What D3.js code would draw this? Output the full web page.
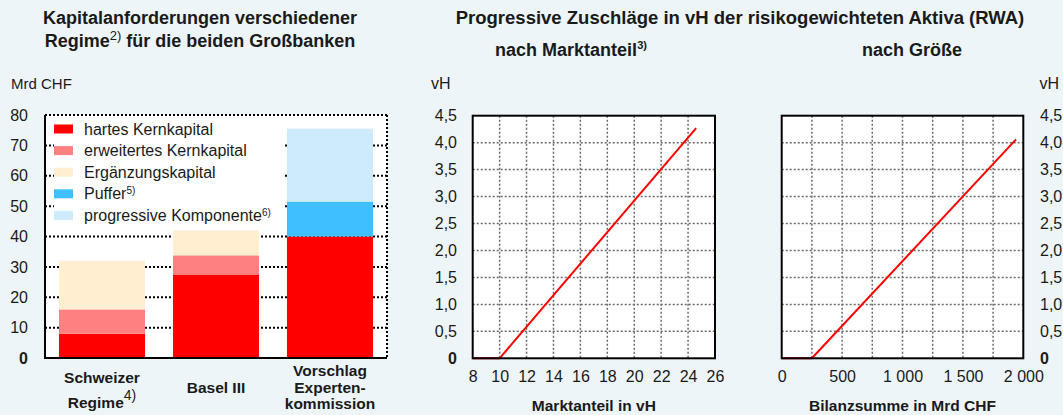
<!DOCTYPE html>
<html>
<head>
<meta charset="utf-8">
<script src="https://cdn.jsdelivr.net/npm/d3@7"></script>
<style>
  body { margin: 0; background: #edf5f9; }
  svg { display: block; font-family: "Liberation Sans", Arial, sans-serif; }
  text { fill: #1a1a1a; }
</style>
</head>
<body>
<script>
var WIDTH = 1063,
    HEIGHT = 415;

// left chart: capital requirements, Mrd CHF
var categories = ["Schweizer Regime", "Basel III", "Vorschlag Expertenkommission"];
var categoryLines = [["Schweizer", "Regime"], ["Basel III"], ["Vorschlag", "Experten-", "kommission"]];
var seriesNames = ["hartes Kernkapital", "erweitertes Kernkapital", "Ergänzungskapital", "Puffer", "progressive Komponente"];
var seriesNotes = ["", "", "", "5)", "6)"];
var seriesColors = ["#ff0000", "#ff8080", "#ffeecf", "#3fbfff", "#cdebfb"];
var hartes = [8, 27.5, 40];
var erweitertes = [8, 6.3, 0];
var ergaenzung = [16, 8.2, 0];
var puffer = [0, 0, 11.5];
var progressiv = [0, 0, 24];
var leftTicks = [0, 10, 20, 30, 40, 50, 60, 70, 80];

// right charts: progressive surcharge in vH of RWA
var vhTicks = [0, 0.5, 1, 1.5, 2, 2.5, 3, 3.5, 4, 4.5];
var marktTicks = [8, 10, 12, 14, 16, 18, 20, 22, 24, 26];
var marktanteil = [[8, 0], [10, 0], [24.6, 4.27]];
var groesseTicks = [0, 500, 1000, 1500, 2000];
var groesseGrid = [250, 500, 750, 1000, 1250, 1500, 1750];
var groesse = [[0, 0], [250, 0], [1940, 4.06]];

var de = d3.formatLocale({decimal: ",", thousands: " ", grouping: [3], currency: ["", " CHF"]});
var fmtVh = function(d){ return d === 0 ? "0" : de.format(".1f")(d); };
var fmtNum = de.format(",");
var FONT = "Liberation Sans, Arial, sans-serif";

var svg = d3.select("body").append("svg")
    .attr("width", WIDTH)
    .attr("height", HEIGHT);

svg.append("rect").attr("width", WIDTH).attr("height", HEIGHT).attr("fill", "#edf5f9");

// ---------- left chart ----------
var rows = categories.map(function(c, i){
  return {cat: c, s0: hartes[i], s1: erweitertes[i], s2: ergaenzung[i], s3: puffer[i], s4: progressiv[i]};
});
var stack = d3.stack().keys(["s0", "s1", "s2", "s3", "s4"]);
var stacked = stack(rows);

var x = d3.scaleBand().domain(categories).range([45, 387]).paddingInner(0.245).paddingOuter(0.1225);
var y = d3.scaleLinear().domain([0, 80]).range([358, 115]);

svg.append("text").attr("x", 200).attr("y", 24).attr("text-anchor", "middle")
    .style("font-weight", "bold").style("font-size", "18px").text("Kapitalanforderungen verschiedener");
var t2 = svg.append("text").attr("x", 200).attr("y", 47).attr("text-anchor", "middle")
    .style("font-weight", "bold").style("font-size", "18px");
t2.append("tspan").text("Regime");
t2.append("tspan").attr("dy", -7).style("font-weight", "normal").style("font-size", "13px").text("2)");
t2.append("tspan").attr("dy", 7).text(" für die beiden Großbanken");

svg.append("text").attr("x", 11).attr("y", 89).style("font-size", "15px").text("Mrd CHF");

svg.append("rect").attr("x", 45).attr("y", y(80)).attr("width", 342).attr("height", y(0) - y(80)).attr("fill", "#fff");

// gridlines
svg.append("g").selectAll("line").data(leftTicks.filter(function(d){ return d > 0; })).join("line")
    .attr("x1", 45).attr("x2", 387).attr("y1", function(d){ return y(d); }).attr("y2", function(d){ return y(d); })
    .attr("stroke", "#000").attr("stroke-width", 2).attr("stroke-dasharray", "2,2");
svg.append("line").attr("x1", 387).attr("x2", 387).attr("y1", y(80)).attr("y2", y(0))
    .attr("stroke", "#000").attr("stroke-width", 2).attr("stroke-dasharray", "2,2");

// legend box hides gridlines
svg.append("rect").attr("x", 54).attr("y", y(80) + 1).attr("width", 229).attr("height", 110).attr("fill", "#fff");

svg.append("g").selectAll("g").data(stacked).join("g")
    .attr("fill", function(d, i){ return seriesColors[i]; })
  .selectAll("rect").data(function(d){ return d; }).join("rect")
    .attr("x", function(d){ return x(d.data.cat); })
    .attr("width", x.bandwidth())
    .attr("y", function(d){ return y(d[1]); })
    .attr("height", function(d){ return y(d[0]) - y(d[1]); });

svg.append("line").attr("x1", 45).attr("x2", 45).attr("y1", y(80)).attr("y2", y(0) + 1)
    .attr("stroke", "#000").attr("stroke-width", 2);
svg.append("line").attr("x1", 44).attr("x2", 387).attr("y1", y(0)).attr("y2", y(0))
    .attr("stroke", "#000").attr("stroke-width", 2);

var yAxisL = svg.append("g").attr("transform", "translate(31,0)")
    .call(d3.axisLeft(y).tickValues(leftTicks).tickSize(0).tickFormat(d3.format("d")));
yAxisL.select(".domain").remove();
yAxisL.selectAll("text").style("font-size", "16px").style("font-family", FONT)
    .attr("fill", "#1a1a1a")
    .style("font-weight", function(d){ return d === 0 ? "bold" : "normal"; });

// legend
var legend = svg.append("g").selectAll("g").data(seriesNames).join("g")
    .attr("transform", function(d, i){ return "translate(54," + (129 + i * 21.6) + ")"; });
legend.append("rect").attr("x", 0).attr("y", -4.5).attr("width", 19).attr("height", 9)
    .attr("fill", function(d, i){ return seriesColors[i]; });
var lt = legend.append("text").attr("x", 30).attr("y", 5.5).style("font-size", "16px");
lt.append("tspan").text(function(d){ return d; });
lt.append("tspan").attr("dy", -5).style("font-size", "10px").text(function(d, i){ return seriesNotes[i]; });

// category labels
var catLabels = svg.append("g").selectAll("text").data(categories).join("text")
    .attr("text-anchor", "middle").style("font-weight", "bold").style("font-size", "15.5px")
    .attr("x", function(d){ return x(d) + x.bandwidth() / 2; })
    .attr("y", function(d, i){ return categoryLines[i].length === 1 ? 393 : (categoryLines[i].length === 2 ? 383 : 376); });
catLabels.each(function(d, i){
  var t = d3.select(this);
  categoryLines[i].forEach(function(line, j){
    t.append("tspan").attr("x", x(d) + x.bandwidth() / 2)
      .attr("dy", j === 0 ? 0 : (categoryLines[i].length === 2 ? 25 : 16.5)).text(line);
  });
});
catLabels.filter(function(d, i){ return i === 0; }).append("tspan")
    .attr("dy", -8).style("font-weight", "normal").style("font-size", "14px").text("4)");

// ---------- right charts ----------
svg.append("text").attr("x", 740).attr("y", 24).attr("text-anchor", "middle")
    .style("font-weight", "bold").style("font-size", "18.5px")
    .text("Progressive Zuschläge in vH der risikogewichteten Aktiva (RWA)");

var yr = d3.scaleLinear().domain([0, 4.5]).range([358.3, 115.7]);

function drawPanel(opt){
  var xs = d3.scaleLinear().domain(opt.domain).range(opt.range);
  var g = svg.append("g");
  g.append("rect").attr("x", opt.range[0]).attr("y", yr(4.5)).attr("width", opt.range[1] - opt.range[0])
      .attr("height", yr(0) - yr(4.5)).attr("fill", "#fff");
  g.append("g").selectAll("line").data(opt.grid).join("line")
      .attr("x1", function(d){ return xs(d); }).attr("x2", function(d){ return xs(d); })
      .attr("y1", yr(4.5)).attr("y2", yr(0))
      .attr("stroke", "#6a6a6a").attr("stroke-width", 1.5).attr("stroke-dasharray", "2,2");
  g.append("g").selectAll("line").data(vhTicks.filter(function(d){ return d > 0 && d < 4.5; })).join("line")
      .attr("x1", opt.range[0]).attr("x2", opt.range[1])
      .attr("y1", function(d){ return yr(d); }).attr("y2", function(d){ return yr(d); })
      .attr("stroke", "#6a6a6a").attr("stroke-width", 1.5).attr("stroke-dasharray", "2,2");
  g.append("path").datum(opt.data)
      .attr("d", d3.line().x(function(d){ return xs(d[0]); }).y(function(d){ return yr(d[1]); }))
      .attr("fill", "none").attr("stroke", "#ff0000").attr("stroke-width", 2);
  g.append("rect").attr("x", opt.range[0]).attr("y", yr(4.5)).attr("width", opt.range[1] - opt.range[0])
      .attr("height", yr(0) - yr(4.5)).attr("fill", "none").attr("stroke", "#000").attr("stroke-width", 2);

  var xa = g.append("g").attr("transform", "translate(0," + (yr(0) + 9) + ")")
      .call(d3.axisBottom(xs).tickValues(opt.ticks).tickSize(0).tickFormat(opt.fmt));
  xa.select(".domain").remove();
  xa.selectAll("text").style("font-size", "16px").style("font-family", FONT).attr("fill", "#1a1a1a");

  var ya = g.append("g").attr("transform", "translate(" + opt.yAxisX + ",0)")
      .call((opt.side === "left" ? d3.axisLeft(yr) : d3.axisRight(yr)).tickValues(vhTicks).tickSize(0).tickFormat(fmtVh));
  ya.select(".domain").remove();
  ya.selectAll("text").style("font-size", "16px").style("font-family", FONT).attr("fill", "#1a1a1a")
      .style("font-weight", function(d){ return d === 0 ? "bold" : "normal"; });

  g.append("text").attr("x", opt.vhX).attr("y", 89).attr("text-anchor", opt.side === "left" ? "start" : "end")
      .style("font-size", "16px").text("vH");

  var st = g.append("text").attr("x", opt.subX).attr("y", 56).attr("text-anchor", "middle")
      .style("font-weight", "bold").style("font-size", "18px");
  st.append("tspan").text(opt.sub);
  if (opt.subNote) st.append("tspan").attr("dy", -7).style("font-size", "11px").text(opt.subNote);

  g.append("text").attr("x", (opt.range[0] + opt.range[1]) / 2).attr("y", 411).attr("text-anchor", "middle")
      .style("font-weight", "bold").style("font-size", "15.5px").text(opt.xTitle);
}

drawPanel({
  domain: [8, 26], range: [472.7, 715], grid: marktTicks.slice(1, -1), ticks: marktTicks,
  fmt: d3.format("d"), data: marktanteil, side: "left", yAxisX: 460, vhX: 431,
  sub: "nach Marktanteil", subNote: "3)", subX: 571, xTitle: "Marktanteil in vH"
});
drawPanel({
  domain: [0, 2000], range: [781.7, 1023.3], grid: groesseGrid, ticks: groesseTicks,
  fmt: fmtNum, data: groesse, side: "right", yAxisX: 1037, vhX: 1059,
  sub: "nach Größe", subNote: "", subX: 912, xTitle: "Bilanzsumme in Mrd CHF"
});
</script>
</body>
</html>
